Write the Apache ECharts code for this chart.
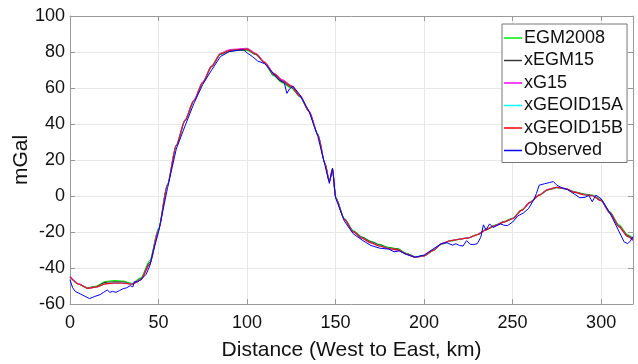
<!DOCTYPE html>
<html>
<head>
<meta charset="utf-8">
<script src="https://cdn.jsdelivr.net/npm/echarts@6/dist/echarts.min.js"></script>
<style>
  html, body { margin: 0; padding: 0; background: #fff; }
  #chart { width: 638px; height: 364px; }
</style>
</head>
<body>
<div id="chart"></div>
<script>
// distance along profile (km), shared by the model curves
var dist = [0, 5, 10, 15, 20, 25, 30, 35, 40, 45, 50, 55, 60, 65, 70, 75, 80, 85, 90, 95,
  100, 105, 110, 115, 120, 125, 130, 135, 140, 144, 146.5, 148.3, 150, 155, 160, 165, 170, 175, 180, 185,
  190, 195, 200, 205, 210, 215, 220, 225, 230, 235, 240, 245, 250, 255, 260, 265, 270, 275, 280, 285,
  290, 295, 300, 305, 310, 315, 318];

var egm2008 = [-45, -49, -51, -50, -47.5, -47, -47.3, -48.6, -45.5, -36, -18, 6.5, 28, 42, 53, 63, 71.8, 78.6, 80.3, 80.8,
  81, 78.5, 73.8, 66.8, 62.8, 60, 55, 47, 34.5, 18.5, 8.3, 15.3, -0.5, -12.5, -19.3, -22.8, -25.2, -27, -28.5, -29.2,
  -31.8, -33.8, -33.3, -30.5, -26.7, -25, -24, -23.2, -21.4, -18.5, -16.2, -14.2, -12.3, -7.8, -3.4, 0.5, 3.4, 4.6, 4, 2.4,
  1.2, 0.5, -2.2, -8.8, -16, -21.5, -23.5];

var xegm15 = [-45, -49, -51.2, -50.3, -48, -47.6, -47.8, -48.8, -46, -37, -18.5, 6.2, 28, 42, 53, 63, 72, 78.8, 80.6, 81.1,
  81.3, 78.6, 73.9, 67.3, 63.3, 60.5, 55.2, 47, 34.2, 18.2, 8.1, 15.1, -0.8, -12.8, -19.6, -23, -25.5, -27.3, -28.8, -29.5,
  -32, -33.9, -33.2, -30.3, -26.6, -24.9, -24, -23.3, -21.5, -18.7, -16.4, -14.4, -12.5, -7.9, -3.5, 0.5, 3.5, 4.7, 4, 2.2,
  1, 0.4, -2.4, -9.2, -16.5, -22, -24];

var xg15 = [-44.7, -48.8, -51.3, -50.6, -48.9, -48.4, -48.4, -49, -46.6, -38.2, -19.2, 6, 28.2, 42.3, 53.3, 63.3, 72.3, 79.3, 81.2, 81.7,
  82, 79.2, 74.4, 68.3, 64.5, 61.4, 55.8, 47.3, 34.2, 18.2, 8.2, 15.2, -1, -13, -20, -23.6, -26.1, -27.9, -29.3, -30,
  -32.4, -34.1, -33.3, -30.2, -26.4, -24.8, -23.9, -23.2, -21.4, -18.7, -16.4, -14.4, -12.5, -7.9, -3.4, 0.6, 3.7, 4.9, 4.1, 2.1,
  0.8, 0.1, -2.6, -9.4, -17, -22.6, -24.6];

var xgeoid15a = [-45, -49, -51.3, -50.5, -48.7, -48.2, -48.2, -48.9, -46.4, -37.8, -18.8, 6.1, 28, 42, 53, 63, 72, 79, 80.8, 81.3,
  81.6, 78.8, 74, 68, 64, 61, 55.5, 47, 34, 18, 8, 15, -1, -13, -20, -23.4, -25.9, -27.7, -29.1, -29.8,
  -32.3, -34, -33.2, -30.2, -26.5, -24.9, -24, -23.3, -21.5, -18.8, -16.5, -14.5, -12.6, -8, -3.5, 0.5, 3.6, 4.8, 4, 2,
  0.7, 0.1, -2.6, -9.5, -17, -22.5, -24.4];

var xgeoid15b = [-45, -49, -51.3, -50.5, -48.8, -48.3, -48.3, -49, -46.5, -38, -19, 6, 28, 42, 53, 63, 72, 79, 80.8, 81.3,
  81.6, 78.8, 74, 68, 64, 61, 55.5, 47, 34, 18, 8, 15, -1, -13, -20, -23.5, -26, -27.8, -29.2, -29.8,
  -32.3, -34, -33.2, -30.2, -26.5, -24.9, -24, -23.3, -21.5, -18.8, -16.5, -14.5, -12.6, -8, -3.5, 0.5, 3.6, 4.8, 4, 2,
  0.7, 0.1, -2.6, -9.5, -17, -22.5, -24.5];

// observed profile has its own, denser sampling
var obsDist = [0, 1.5, 3, 6, 9, 11, 14, 17, 19, 21, 22.5, 24, 26, 28, 30, 32, 34, 35.5, 36.5, 38,
  40, 43, 45, 47, 50, 55, 60, 65, 70, 75, 80, 85, 90, 95, 98, 100, 103, 106, 110, 114,
  118, 121, 122.5, 124, 126, 130, 135, 140, 144, 146.5, 148.3, 150, 155, 160, 165, 170, 175, 180, 183, 186,
  190, 195, 200, 205, 210, 213, 216, 218, 220, 222, 224, 226, 228, 230, 232, 233.5, 235, 237, 239, 241,
  243, 245, 247, 250, 253, 256, 259, 262, 263.5, 265, 268, 271, 273, 275, 278, 281, 285, 288, 291, 293,
  295, 297, 300, 305, 310, 313, 315, 316.5, 318];
var observed = [-46.5, -51, -53, -54.5, -56, -57, -55.8, -54.8, -53.5, -52.2, -53.5, -53, -53.5, -52.5, -51.5, -51, -49.8, -50.5, -47.5, -47.8,
  -46.5, -43.5, -39, -31, -20, 4, 26, 39, 51.5, 62, 70, 77.5, 80.2, 81, 81.2, 79.5, 77.5, 75, 73.5, 69,
  64.5, 63, 57, 59.5, 61, 56, 47, 33, 17, 7, 15.5, -1, -14, -21, -24.5, -27.5, -29, -29.5, -31, -30.5,
  -32.5, -34, -32.8, -29.5, -26.3, -26, -27.3, -26.5, -27.5, -27.8, -24.8, -26.8, -27, -26.5, -23, -16, -18.8, -15.5, -17.5, -16.5,
  -15.5, -16.2, -16.5, -14.5, -11, -9.5, -7, -2, 1.5, 6, 6.8, 7.5, 8, 6, 4.5, 3.5, 1, -1, -0.7, 0.3,
  -3.2, 0.5, -1.5, -9.5, -19.5, -25.5, -26.5, -25, -22.5];

var names = ['EGM2008', 'xEGM15', 'xG15', 'xGEOID15A', 'xGEOID15B', 'Observed'];
var colors = ['#00ee00', '#3a3a3a', '#ff00ff', '#00ffff', '#ff0000', '#0000ff'];

function pairs(xs, ys) {
  return xs.map(function (x, i) { return [x, ys[i]]; });
}

var font = 'Liberation Sans, Arial, sans-serif';
var modelData = [egm2008, xegm15, xg15, xgeoid15a, xgeoid15b];

var series = modelData.map(function (vals, i) {
  return {
    name: names[i],
    type: 'line',
    data: pairs(dist, vals),
    symbol: 'none',
    smooth: 0.25,
    smoothMonotone: 'x',
    lineStyle: { color: colors[i], width: 1.1 },
    itemStyle: { color: colors[i] },
    animation: false
  };
});
series.push({
  name: names[5],
  type: 'line',
  data: pairs(obsDist, observed),
  symbol: 'none',
  lineStyle: { color: colors[5], width: 1 },
  itemStyle: { color: colors[5] },
  animation: false
});

var axisGray = '#9a9a9a';
var chart = echarts.init(document.getElementById('chart'));
chart.setOption({
  backgroundColor: '#fff',
  animation: false,
  grid: { left: 70, right: 5, top: 16, bottom: 60, containLabel: false, outerBoundsMode: 'none' },
  legend: {
    data: names,
    orient: 'vertical',
    left: 502,
    top: 24,
    padding: [5, 4, 3, 2],
    itemWidth: 18,
    itemHeight: 1.5,
    itemGap: 4.5,
    icon: 'rect',
    backgroundColor: '#fff',
    borderColor: '#777',
    borderWidth: 1,
    textStyle: { fontFamily: font, fontSize: 18, color: '#111', lineHeight: 18, padding: [0, 0, 0, -3] }
  },
  xAxis: [{
    type: 'value',
    min: 0, max: 318, interval: 50,
    name: 'Distance (West to East, km)',
    nameLocation: 'middle',
    nameGap: 36,
    nameMoveOverlap: false,
    nameTextStyle: { fontFamily: font, fontSize: 21, color: '#111' },
    axisLine: { onZero: false, lineStyle: { color: axisGray } },
    axisTick: { inside: true, length: 5, lineStyle: { color: axisGray } },
    axisLabel: { fontFamily: font, fontSize: 18, color: '#111', margin: 10, showMaxLabel: false },
    splitLine: { show: true, lineStyle: { color: '#e8e8e8' } }
  }, {
    type: 'value', position: 'top',
    min: 0, max: 318, interval: 50,
    axisLine: { show: true, onZero: false, lineStyle: { color: axisGray } },
    axisTick: { show: true, inside: true, length: 5, lineStyle: { color: axisGray } },
    axisLabel: { show: false },
    splitLine: { show: false }
  }],
  yAxis: [{
    type: 'value',
    min: -60, max: 100, interval: 20,
    name: 'mGal',
    nameLocation: 'middle',
    nameGap: 38,
    nameMoveOverlap: false,
    nameTextStyle: { fontFamily: font, fontSize: 21, color: '#111' },
    axisLine: { show: true, onZero: false, lineStyle: { color: axisGray } },
    axisTick: { show: true, inside: true, length: 5, lineStyle: { color: axisGray } },
    axisLabel: { fontFamily: font, fontSize: 18, color: '#111', margin: 5 },
    splitLine: { show: true, lineStyle: { color: '#e8e8e8' } }
  }, {
    type: 'value', position: 'right',
    min: -60, max: 100, interval: 20,
    axisLine: { show: true, onZero: false, lineStyle: { color: axisGray } },
    axisTick: { show: true, inside: true, length: 5, lineStyle: { color: axisGray } },
    axisLabel: { show: false },
    splitLine: { show: false }
  }],
  series: series
});
</script>
</body>
</html>
